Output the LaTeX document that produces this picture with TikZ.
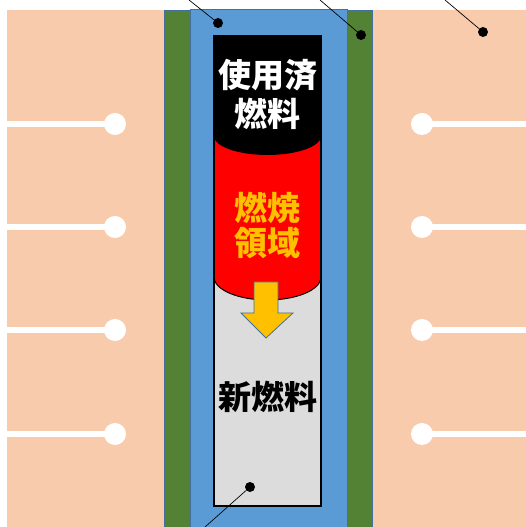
\documentclass[tikz,border=0pt]{standalone}
\usepackage{fontspec}
\newfontfamily\cjk{Noto Sans CJK JP}
\definecolor{peach}{HTML}{F8CBAD}
\definecolor{leaf}{HTML}{548235}
\definecolor{water}{HTML}{5B9BD5}
\definecolor{edgeblue}{HTML}{41719C}
\definecolor{greyfuel}{HTML}{DCDCDC}
\definecolor{flame}{HTML}{FF0000}
\definecolor{amber}{HTML}{FFC000}
\tikzset{
  lbl/.style={font=\cjk\bfseries\fontsize{33}{40}\selectfont, inner sep=0pt, align=center},
  pin/.style={circle, fill=black, inner sep=0pt, minimum size=10pt},
  leader/.style={draw=black, line width=0.7pt},
  hole/.style={circle, fill=white, inner sep=0pt, minimum size=22pt},
  rod/.style={draw=white, line width=6pt},
}
\begin{document}
\begin{tikzpicture}[x=1pt,y=1pt]
\useasboundingbox (0,0) rectangle (526,527);
\fill[white] (0,0) rectangle (526,527);
% peach blocks
\fill[peach] (7,0) rectangle (164,517);
\fill[peach] (372,0) rectangle (526,517);
% green and water
\filldraw[fill=leaf, draw=edgeblue, line width=0.8pt] (164,-2) rectangle (372,517);
\filldraw[fill=water, draw=edgeblue, line width=1pt] (190,-2) rectangle (347,517);
% holes and rods
\foreach \yy [count=\i] in {403,300,197,93} {
  \node[hole] (L\i) at (115,\yy) {};
  \coordinate (LE\i) at (7,\yy);
  \draw[rod] (LE\i) -- (L\i.center);
  \node[hole] (R\i) at (422,\yy) {};
  \coordinate (RE\i) at (526,\yy);
  \draw[rod] (R\i.center) -- (RE\i);
}
% fuel column
\fill[greyfuel] (214,21) rectangle (321,491);
\fill[flame] (214,491) -- (214,250) arc[start angle=180, end angle=360, x radius=53.5, y radius=23] -- (321,491) -- cycle;
\draw[black, line width=1pt] (214,250) arc[start angle=180, end angle=360, x radius=53.5, y radius=23];
\fill[black] (214,491) -- (214,391) arc[start angle=180, end angle=360, x radius=53.5, y radius=19] -- (321,491) -- cycle;
\draw[black, line width=1.6pt] (214,21) rectangle (321,491);
% arrow
\filldraw[fill=amber, draw=edgeblue, line width=0.8pt, line join=miter]
  (254,245) -- (278,245) -- (278,214) -- (293,214) -- (266,189) -- (241,214) -- (254,214) -- cycle;
% labels
\node[lbl, text=white] (spent1) at (267.5,452) {使用済};
\node[lbl, text=white] (spent2) at (267.5,413) {燃料};
\node[lbl, text=amber] (burn1) at (267.5,319) {燃焼};
\node[lbl, text=amber] (burn2) at (267.5,284) {領域};
\node[lbl, text=black] (fresh) at (267.5,130) {新燃料};
% pins and leaders
\node[pin] (p1) at (218,504) {};
\node[pin] (p2) at (361,492) {};
\node[pin] (p3) at (483,495) {};
\node[pin] (p4) at (250,40) {};
\coordinate (e1) at (189,527);
\coordinate (e2) at (320,527);
\coordinate (e3) at (445,527);
\coordinate (e4) at (205,0);
\draw[leader] (e1) -- (p1);
\draw[leader] (e2) -- (p2);
\draw[leader] (e3) -- (p3);
\draw[leader] (e4) -- (p4);
\end{tikzpicture}
\end{document}
